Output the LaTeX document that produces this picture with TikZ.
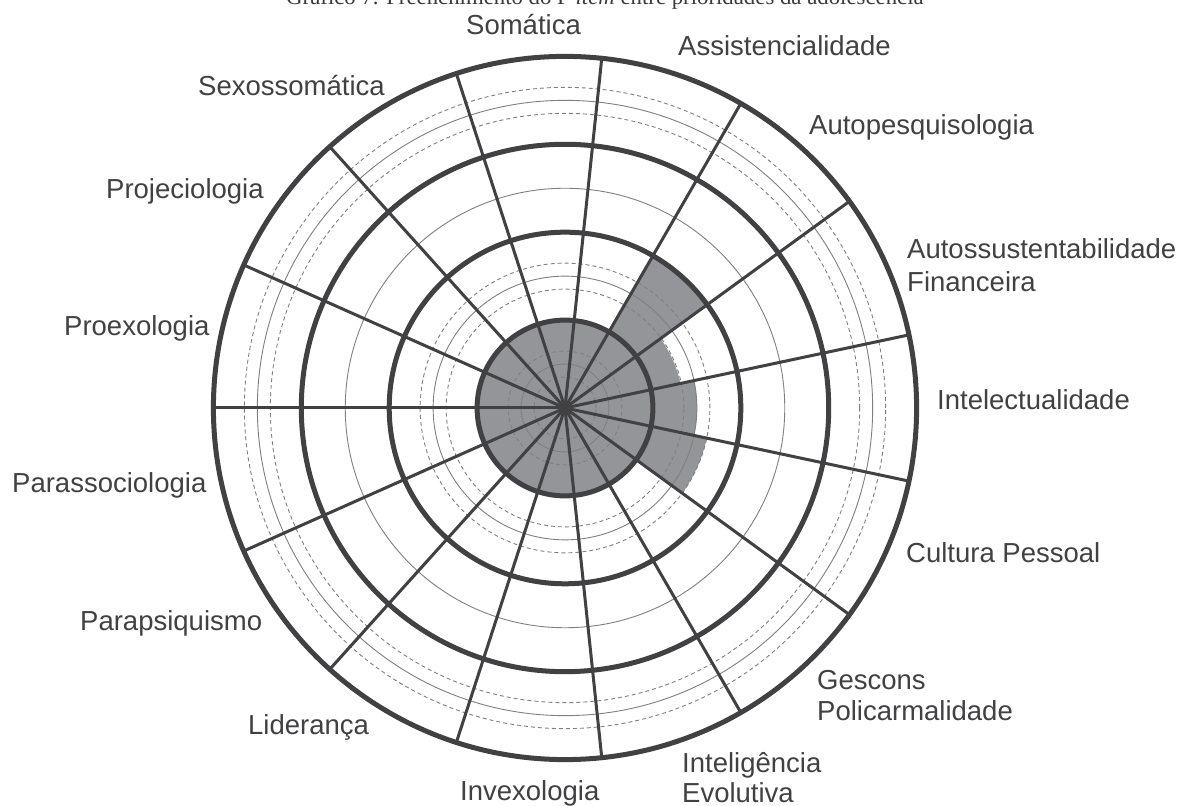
\documentclass[tikz,border=0pt]{standalone}
\usepackage{fontspec}
\usetikzlibrary{calc}
\setmainfont{Liberation Sans}
\newfontfamily\titlefont{Liberation Serif}
\definecolor{ink}{HTML}{414042}
\definecolor{shadefill}{HTML}{939598}
\definecolor{thingray}{HTML}{808080}
\tikzset{
  thickring/.style={draw=ink, line width=5pt},
  spoke/.style={draw=ink, line width=3pt},
  midring/.style={draw=thingray, line width=0.9pt},
  dashring/.style={draw=thingray, line width=0.9pt, dash pattern=on 4pt off 3pt},
  lbl/.style={inner sep=0pt, text=ink, font=\fontsize{27.5}{32}\selectfont, anchor=base west},
}
\begin{document}
\begin{tikzpicture}[x=1pt,y=1pt]
\useasboundingbox (0,0) rectangle (1182,805);
\fill[white] (0,0) rectangle (1182,805);
\coordinate (C) at (565,397);
\def\u{87.9}
% shading
\fill[shadefill] (C) circle (\u);
\fill[shadefill] (C) -- ++(36:175.8) arc[start angle=36, end angle=60, radius=175.8] -- cycle;
\fill[shadefill] (C) -- ++(12:118) arc[start angle=12, end angle=36, radius=118] -- cycle;
\fill[shadefill] (C) -- ++(-12:131.9) arc[start angle=-12, end angle=12, radius=131.9] -- cycle;
\fill[shadefill] (C) -- ++(-36:144.9) arc[start angle=-36, end angle=-12, radius=144.9] -- cycle;
% thin middle rings
\foreach \k in {0,1,2,3} {
  \draw[midring] (C) circle ({(\k+0.5)*\u});
}
% dashed rings
\foreach \k in {0,1,3} {
  \draw[dashring] (C) circle ({(\k+0.5)*\u-13});
  \draw[dashring] (C) circle ({(\k+0.5)*\u+13});
}
% spokes
\foreach \i in {0,...,14} {
  \coordinate (s\i) at ($(C)+({180-24*\i}:{4*\u})$);
  \draw[spoke] (C) -- (s\i);
}
% thick rings
\foreach \k in {1,2,3,4} {
  \draw[thickring] (C) circle ({\k*\u});
}
% title (cropped at top)
\node[inner sep=0pt, anchor=base, text=ink!90!black, font=\titlefont\fontsize{22.8}{26}\selectfont] (title) at (605,800.5)
  {Gráfico 7. Preenchimento do P \textit{item} entre prioridades da adolescência};
% labels
\node[lbl] (somatica) at (466,770) {Somática};
\node[lbl] (assist) at (678,749) {Assistencialidade};
\node[lbl] (autopesq) at (809,670) {Autopesquisologia};
\node[lbl] (autossA) at (907,546) {Autossustentabilidade};
\node[lbl] (autossB) at (907,513) {Financeira};
\node[lbl] (intelect) at (937,395) {Intelectualidade};
\node[lbl] (cultura) at (906,242) {Cultura Pessoal};
\node[lbl] (gesconsA) at (817,115) {Gescons};
\node[lbl] (gesconsB) at (817,84) {Policarmalidade};
\node[lbl] (inteligA) at (682,32) {Inteligência};
\node[lbl] (inteligB) at (682,2) {Evolutiva};
\node[lbl] (invex) at (460,5) {Invexologia};
\node[lbl] (lider) at (248,70) {Liderança};
\node[lbl] (parapsi) at (80,174) {Parapsiquismo};
\node[lbl] (parasso) at (12,312) {Parassociologia};
\node[lbl] (proexo) at (64,469) {Proexologia};
\node[lbl] (projec) at (106,606) {Projeciologia};
\node[lbl] (sexosso) at (198,709) {Sexossomática};
\end{tikzpicture}
\end{document}
